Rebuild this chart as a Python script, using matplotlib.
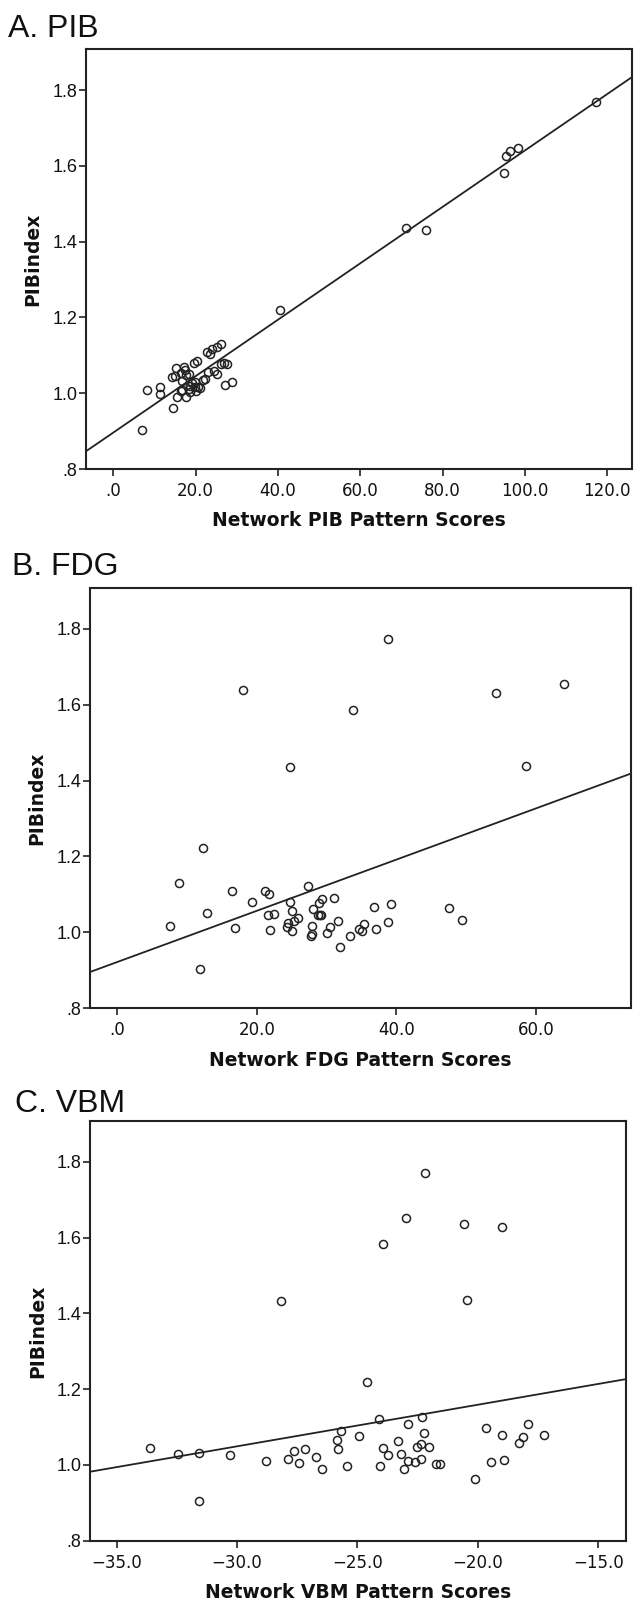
import numpy as np
import matplotlib
matplotlib.use("Agg")
import matplotlib.pyplot as plt
from matplotlib.ticker import FixedLocator, FuncFormatter

# PIB index values (y) shared meaning across panels, x = network pattern scores
pib_x = [117.3, 98.2, 96.3, 95.5, 95.0, 71.1, 76.0, 40.5, 6.9, 14.6,
         8.1, 11.3, 11.3, 14.2, 15.0, 15.4, 15.3, 17.1, 16.5, 17.7,
         18.3, 16.8, 16.5, 17.7, 18.3, 19.1, 18.6, 20.0, 20.5, 19.8,
         21.1, 21.8, 19.6, 20.3, 22.7, 23.5, 24.1, 25.1, 26.3, 23.0,
         25.3, 26.2, 26.9, 27.6, 27.1, 28.8, 16.6, 18.6, 22.3, 17.4,
         19.9, 24.5]
pib_y = [1.768, 1.648, 1.639, 1.625, 1.582, 1.435, 1.432, 1.220, 0.903, 0.962,
         1.008, 1.017, 0.998, 1.044, 1.045, 0.991, 1.066, 1.068, 1.053, 1.048,
         1.050, 1.032, 1.007, 0.991, 1.012, 1.028, 1.003, 1.005, 1.016, 1.030,
         1.014, 1.036, 1.080, 1.086, 1.110, 1.103, 1.116, 1.123, 1.129, 1.057,
         1.050, 1.077, 1.080, 1.077, 1.022, 1.030, 1.008, 1.020, 1.037, 1.062,
         1.017, 1.060]

fdg_x = [38.83, 17.99, 33.78, 54.27, 63.96, 24.72, 58.56, 12.30, 8.88, 16.48,
         21.13, 21.71, 27.28, 19.27, 24.72, 29.37, 28.90, 31.11, 36.80, 39.15,
         47.48, 49.39, 12.88, 7.49, 16.83, 21.59, 22.52, 25.07, 25.83, 25.30,
         24.49, 24.26, 21.82, 25.01, 28.09, 28.73, 29.25, 27.97, 27.97, 27.74,
         30.12, 30.53, 31.69, 31.92, 33.31, 34.65, 35.11, 35.40, 37.09, 38.83,
         11.90, 29.0]
fdg_y = [1.773, 1.638, 1.586, 1.630, 1.653, 1.436, 1.438, 1.221, 1.129, 1.109,
         1.110, 1.100, 1.123, 1.081, 1.079, 1.087, 1.077, 1.091, 1.067, 1.074,
         1.065, 1.032, 1.050, 1.018, 1.011, 1.047, 1.049, 1.057, 1.038, 1.029,
         1.026, 1.015, 1.006, 1.004, 1.062, 1.047, 1.045, 1.018, 0.995, 0.991,
         0.999, 1.013, 1.029, 0.961, 0.991, 1.008, 1.004, 1.022, 1.008, 1.027,
         0.903, 1.045]

vbm_x = [-33.62, -32.45, -31.58, -30.29, -28.81, -27.88, -27.63, -27.43, -27.18, -26.72,
         -26.47, -25.85, -25.81, -25.68, -25.43, -24.93, -24.60, -24.10, -24.06, -23.94,
         -23.73, -23.31, -23.19, -23.06, -22.90, -22.90, -22.61, -22.52, -22.36, -22.36,
         -22.32, -22.23, -22.03, -21.73, -21.57, -20.11, -19.66, -19.45, -18.99, -18.91,
         -18.29, -18.12, -17.91, -17.25, -31.58, -22.21, -22.98, -20.57, -19.01, -23.96,
         -28.19, -20.44]
vbm_y = [1.045, 1.029, 1.032, 1.026, 1.011, 1.016, 1.037, 1.005, 1.042, 1.021,
         0.990, 1.066, 1.043, 1.090, 0.998, 1.077, 1.220, 1.122, 0.998, 1.045,
         1.027, 1.064, 1.029, 0.990, 1.011, 1.107, 1.008, 1.048, 1.056, 1.016,
         1.127, 1.085, 1.048, 1.003, 1.003, 0.963, 1.098, 1.008, 1.080, 1.014,
         1.058, 1.074, 1.108, 1.080, 0.905, 1.771, 1.652, 1.635, 1.628, 1.583,
         1.434, 1.435]

y_ticks = [0.8, 1.0, 1.2, 1.4, 1.6, 1.8]
pib_ticks = [0, 20, 40, 60, 80, 100, 120]
fdg_ticks = [0, 20, 40, 60]
vbm_ticks = [-35, -30, -25, -20, -15]

panels = [
    ("A. PIB", "Network PIB Pattern Scores", pib_x, pib_y, pib_ticks, (-6.6, 126.0)),
    ("B. FDG", "Network FDG Pattern Scores", fdg_x, fdg_y, fdg_ticks, (-3.9, 73.6)),
    ("C. VBM", "Network VBM Pattern Scores", vbm_x, vbm_y, vbm_ticks, (-36.11, -13.86)),
]

W, H = 635, 1602
# axes boxes in pixels: left, top, right, bottom
boxes = [(86, 49.3, 632, 469), (90, 587.7, 631, 1008.3), (90, 1121, 625.7, 1540.7)]
title_pos = [(8, 36.7), (11.7, 575), (15, 1111.7)]

fig = plt.figure(figsize=(W / 100, H / 100), dpi=100)
ink = "#222222"


def fmt_num(v, pos=None):
    s = f"{abs(v):.1f}"
    if s.startswith("0"):
        s = s[1:]
    return ("\u2212" + s) if v < 0 else s


for (title, xlabel, xs, ys, xt, xlim), (l, t, r, b), (tx, ty) in zip(panels, boxes, title_pos):
    ax = fig.add_axes([l / W, 1 - b / H, (r - l) / W, (b - t) / H])
    ax.plot(xs, ys, linestyle="none", marker="o", ms=5.8, mfc="none", mec=ink, mew=1.1)

    # least squares fit line across the whole x range
    k, c = np.polyfit(xs, ys, 1)
    lx = np.array(xlim)
    ax.plot(lx, k * lx + c, color=ink, lw=1.3)

    ax.set_xlim(*xlim)
    ax.set_ylim(0.8, 1.908)
    ax.xaxis.set_major_locator(FixedLocator(xt))
    ax.yaxis.set_major_locator(FixedLocator(y_ticks))
    ax.xaxis.set_major_formatter(FuncFormatter(fmt_num))
    ax.yaxis.set_major_formatter(FuncFormatter(fmt_num))
    ax.tick_params(direction="out", length=5, width=1.2, color=ink)
    ax.tick_params(axis="x", pad=4.5, labelsize=12, labelcolor="#111111")
    ax.tick_params(axis="y", pad=1, labelsize=13, labelcolor="#111111")
    for lab in ax.get_xticklabels():
        lab.set_family("DejaVu Sans")
    for lab in ax.get_yticklabels():
        lab.set_family("Liberation Sans")
    for sp in ax.spines.values():
        sp.set_linewidth(1.5)
        sp.set_color(ink)

    ax.set_xlabel(xlabel, family="DejaVu Sans", fontweight="bold", fontsize=13.5,
                  color="#111111", va="center")
    ax.xaxis.set_label_coords(0.5, -0.123)
    ax.set_ylabel("PIBindex", family="DejaVu Sans", fontweight="bold", fontsize=13.5,
                  color="#111111", va="center")
    ax.yaxis.set_label_coords(-0.098, 0.5)

    fig.text(tx / W, 1 - ty / H, title, family="Liberation Sans", fontsize=23,
             va="baseline", ha="left", color="#111111")

fig.savefig("out.png", dpi=100)
